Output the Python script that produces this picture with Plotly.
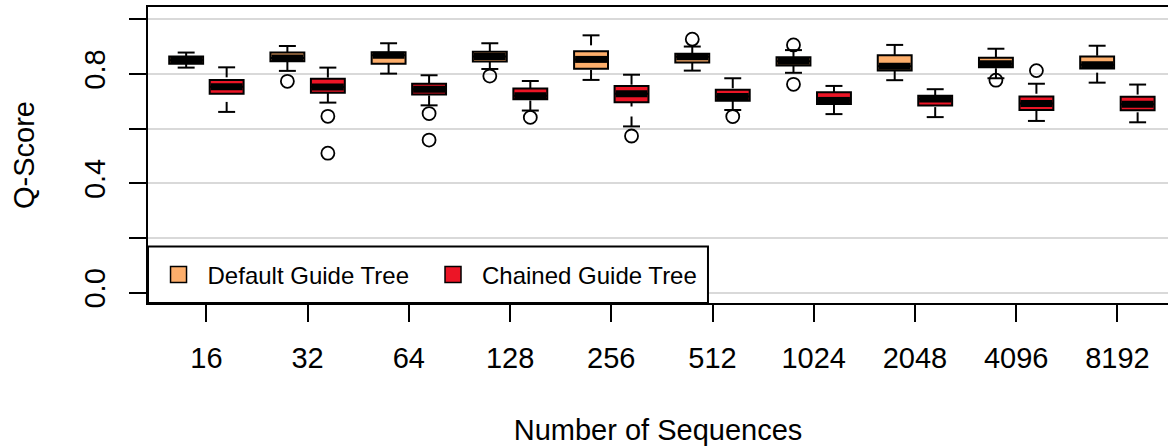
import plotly.graph_objects as go

# ---------------- data ----------------
categories = ["16", "32", "64", "128", "256", "512", "1024", "2048", "4096", "8192"]

default_lower = [0.823, 0.811, 0.801, 0.818, 0.778, 0.812, 0.804, 0.777, 0.784, 0.768]
default_q1 = [0.837, 0.846, 0.837, 0.845, 0.819, 0.842, 0.831, 0.812, 0.824, 0.820]
default_median = [0.850, 0.858, 0.868, 0.864, 0.853, 0.863, 0.846, 0.828, 0.837, 0.833]
default_q3 = [0.864, 0.878, 0.879, 0.881, 0.883, 0.874, 0.861, 0.868, 0.859, 0.864]
default_upper = [0.878, 0.902, 0.912, 0.912, 0.941, 0.900, 0.887, 0.906, 0.892, 0.903]
default_outliers = [[], [0.773], [], [0.792], [], [0.927], [0.906, 0.762], [], [0.777], []]

chained_lower = [0.661, 0.695, 0.685, 0.666, 0.608, 0.668, 0.653, 0.642, 0.628, 0.623]
chained_q1 = [0.727, 0.731, 0.725, 0.707, 0.696, 0.702, 0.690, 0.684, 0.668, 0.667]
chained_median = [0.753, 0.752, 0.744, 0.720, 0.727, 0.717, 0.703, 0.708, 0.692, 0.689]
chained_q3 = [0.778, 0.782, 0.764, 0.747, 0.756, 0.742, 0.733, 0.720, 0.717, 0.716]
chained_upper = [0.824, 0.823, 0.795, 0.774, 0.797, 0.784, 0.756, 0.744, 0.764, 0.761]
chained_outliers = [[], [0.645, 0.510], [0.655, 0.558], [0.641], [0.573], [0.644], [], [], [0.812], []]

series_names = ["Default Guide Tree", "Chained Guide Tree"]
series_colors = ["#FDAE6B", "#EC1526"]

y_tickvals = [0.0, 0.2, 0.4, 0.6, 0.8, 1.0]
y_ticktext = ["0.0", "", "0.4", "", "0.8", ""]

# ---------------- style ----------------
FONT = "Liberation Sans, Arial, Helvetica, sans-serif"
BOX_W = 0.335
OFFSET = 0.2
CAP_W = BOX_W / 2
LEGEND_NAMES = ["legend", "legend2"]

fig = go.Figure()

series = [
    (default_lower, default_q1, default_median, default_q3, default_upper, default_outliers, -OFFSET),
    (chained_lower, chained_q1, chained_median, chained_q3, chained_upper, chained_outliers, OFFSET),
]

for (lo, q1, med, q3, up, outl, off), name, color, lg in zip(series, series_names, series_colors, LEGEND_NAMES):
    pos = [i + off for i in range(len(categories))]
    # whiskers (dashed, drawn from fence towards box)
    wx, wy = [], []
    for p, a, b, c, d in zip(pos, lo, q1, q3, up):
        wx += [p, p, None, p, p, None]
        wy += [a, b, None, d, c, None]
    fig.add_trace(go.Scatter(x=wx, y=wy, mode="lines", showlegend=False, hoverinfo="skip",
                             line=dict(color="black", width=2, dash="10px,10px")))
    # box bodies
    fig.add_trace(go.Box(x=pos, q1=q1, median=med, q3=q3, lowerfence=q1, upperfence=q3,
                         width=BOX_W, whiskerwidth=0, fillcolor=color,
                         line=dict(color="black", width=2), boxpoints=False,
                         showlegend=False, hoverinfo="skip"))
    # thick medians
    mx, my = [], []
    for p, m in zip(pos, med):
        mx += [p - BOX_W / 2 + 0.01, p + BOX_W / 2 - 0.01, None]
        my += [m, m, None]
    fig.add_trace(go.Scatter(x=mx, y=my, mode="lines", showlegend=False, hoverinfo="skip",
                             line=dict(color="black", width=7)))
    # caps
    cx, cy = [], []
    for p, a, d in zip(pos, lo, up):
        cx += [p - CAP_W / 2, p + CAP_W / 2, None, p - CAP_W / 2, p + CAP_W / 2, None]
        cy += [a, a, None, d, d, None]
    fig.add_trace(go.Scatter(x=cx, y=cy, mode="lines", showlegend=False, hoverinfo="skip",
                             line=dict(color="black", width=2)))
    # outliers
    ox, oy = [], []
    for p, vals in zip(pos, outl):
        for v in vals:
            ox.append(p)
            oy.append(v)
    fig.add_trace(go.Scatter(x=ox, y=oy, mode="markers", showlegend=False, hoverinfo="skip",
                             marker=dict(symbol="circle-open", size=13, color="black",
                                         line=dict(color="black", width=1.8))))
    # legend entry
    fig.add_trace(go.Scatter(x=[None], y=[None], mode="markers", name=name, legend=lg,
                             marker=dict(symbol="square", size=16, color=color,
                                         line=dict(color="black", width=1.5))))

# legend frame
fig.add_shape(type="rect", xref="paper", yref="paper", x0=0, x1=0.549, y0=0, y1=0.191,
              fillcolor="white", line=dict(color="black", width=2), layer="above")

leg_common = dict(orientation="h", xanchor="left", yanchor="middle", y=0.095,
                  itemwidth=48, bgcolor="rgba(0,0,0,0)", borderwidth=0,
                  font=dict(family=FONT, size=24, color="black"))

fig.update_layout(
    width=1168, height=447,
    margin=dict(l=148, r=0, t=7, b=144),
    paper_bgcolor="white", plot_bgcolor="white",
    font=dict(family=FONT, size=29, color="black"),
    showlegend=True,
    boxmode="overlay",
    legend=dict(x=0.0015, **leg_common),
    legend2=dict(x=0.2706, **leg_common),
    xaxis=dict(range=[-0.577, 9.5], tickmode="array", tickvals=list(range(len(categories))),
               ticktext=categories, ticks="outside", ticklen=17, tickwidth=1.5, tickcolor="black",
               ticklabelstandoff=11,
               showline=True, linecolor="black", linewidth=2, mirror=True, automargin=False,
               showgrid=False, zeroline=False,
               title=dict(text="Number of Sequences", standoff=47,
                          font=dict(family=FONT, size=29))),
    yaxis=dict(range=[-0.0377, 1.0446], tickmode="array", tickvals=y_tickvals, ticktext=y_ticktext,
               tickangle=-90, ticks="outside", ticklen=17, tickwidth=1.5, tickcolor="black",
               ticklabelstandoff=12,
               showline=True, linecolor="black", linewidth=2, mirror=False, automargin=False,
               showgrid=True, gridcolor="#d9d9d9", gridwidth=1.5, zeroline=False,
               title=dict(text="Q-Score", standoff=36, font=dict(family=FONT, size=29))),
)

fig.write_html("out.html", config={"displayModeBar": False},
               post_script="document.body.style.margin='0';")
